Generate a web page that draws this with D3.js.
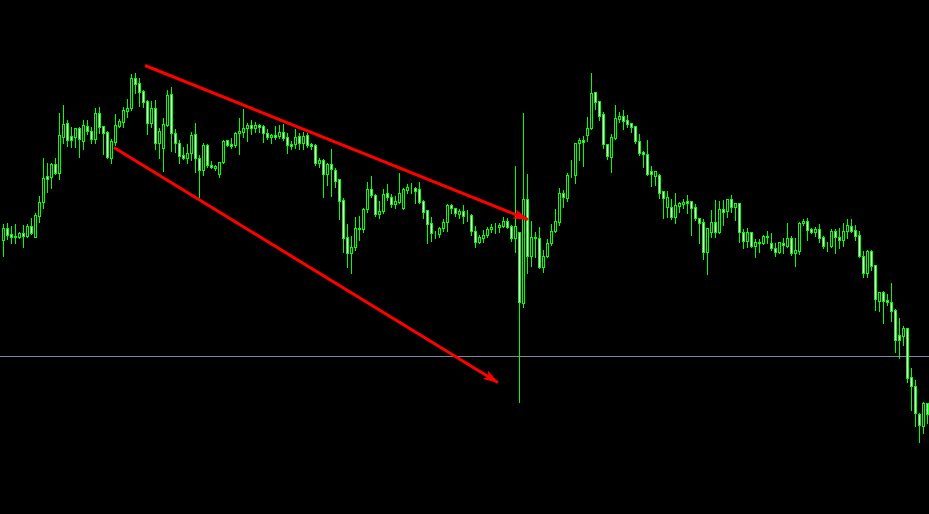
<!DOCTYPE html>
<meta charset="utf-8" />
<title>Candles</title>
<script src="https://d3js.org/d3.v7.min.js"></script>
<style>
  html, body { margin: 0; padding: 0; background: #000; overflow: hidden; }
  svg { display: block; }
</style>
<div id="chart"></div>
<script>
  var width = 929, height = 514;

  // OHLC per bar
  var open = [
    1.0760,1.0772,1.0766,1.0764,1.0763,1.0767,1.0764,1.0774,1.0763,1.0784,
    1.0798,1.0824,1.0823,1.0836,1.0827,1.0863,1.0877,1.0864,1.0863,1.0872,
    1.0859,1.0874,1.0869,1.0861,1.0887,1.0874,1.0868,1.0842,1.0858,1.0874,
    1.0878,1.0889,1.0892,1.0922,1.0917,1.0909,1.0899,1.0877,1.0892,1.0857,
    1.0852,1.0875,1.0906,1.0867,1.0857,1.0845,1.0842,1.0847,1.0866,1.0842,
    1.0830,1.0855,1.0835,1.0832,1.0826,1.0838,1.0860,1.0856,1.0855,1.0867,
    1.0868,1.0872,1.0875,1.0872,1.0875,1.0874,1.0867,1.0863,1.0865,1.0864,
    1.0868,1.0863,1.0856,1.0856,1.0864,1.0857,1.0865,1.0856,1.0855,1.0837,
    1.0840,1.0826,1.0836,1.0830,1.0821,1.0800,1.0763,1.0747,1.0753,1.0772,
    1.0771,1.0791,1.0811,1.0805,1.0786,1.0789,1.0807,1.0803,1.0796,1.0798,
    1.0792,1.0810,1.0812,1.0812,1.0811,1.0799,1.0790,1.0777,1.0767,1.0766,
    1.0772,1.0778,1.0795,1.0792,1.0786,1.0789,1.0785,1.0785,1.0769,1.0758,
    1.0762,1.0765,1.0771,1.0773,1.0773,1.0774,1.0779,1.0774,1.0762,1.0768,
    1.0697,1.0801,1.0744,1.0763,1.0762,1.0733,1.0744,1.0757,1.0769,1.0778,
    1.0807,1.0802,1.0825,1.0825,1.0857,1.0860,1.0865,1.0872,1.0908,1.0899,
    1.0886,1.0856,1.0843,1.0862,1.0881,1.0884,1.0880,1.0877,1.0874,1.0859,
    1.0848,1.0846,1.0829,1.0824,1.0825,1.0809,1.0793,1.0793,1.0783,1.0794,
    1.0796,1.0799,1.0799,1.0793,1.0782,1.0778,1.0748,1.0768,1.0778,1.0768,
    1.0791,1.0789,1.0801,1.0793,1.0797,1.0768,1.0759,1.0768,1.0754,1.0758,
    1.0757,1.0764,1.0757,1.0752,1.0748,1.0757,1.0754,1.0762,1.0747,1.0749,
    1.0777,1.0779,1.0771,1.0768,1.0771,1.0763,1.0755,1.0754,1.0769,1.0763,
    1.0760,1.0769,1.0774,1.0770,1.0765,1.0744,1.0727,1.0749,1.0735,1.0699,
    1.0708,1.0700,1.0698,1.0690,1.0665,1.0664,1.0672,1.0623,1.0614,1.0586,
    1.0574,1.0597
  ];
  var high = [
    1.0777,1.0778,1.0775,1.0777,1.0769,1.0776,1.0777,1.0783,1.0788,1.0805,
    1.0843,1.0838,1.0838,1.0843,1.0888,1.0896,1.0881,1.0874,1.0873,1.0874,
    1.0881,1.0881,1.0874,1.0893,1.0894,1.0875,1.0870,1.0862,1.0887,1.0882,
    1.0894,1.0902,1.0927,1.0928,1.0923,1.0911,1.0901,1.0900,1.0901,1.0873,
    1.0883,1.0911,1.0914,1.0872,1.0861,1.0854,1.0857,1.0869,1.0878,1.0846,
    1.0858,1.0857,1.0840,1.0836,1.0839,1.0861,1.0861,1.0863,1.0869,1.0883,
    1.0892,1.0878,1.0881,1.0879,1.0877,1.0876,1.0872,1.0867,1.0875,1.0876,
    1.0877,1.0868,1.0860,1.0872,1.0868,1.0869,1.0868,1.0858,1.0857,1.0843,
    1.0842,1.0838,1.0852,1.0833,1.0822,1.0803,1.0777,1.0765,1.0784,1.0785,
    1.0793,1.0819,1.0825,1.0807,1.0800,1.0812,1.0817,1.0807,1.0805,1.0828,
    1.0813,1.0817,1.0818,1.0814,1.0819,1.0801,1.0791,1.0784,1.0770,1.0774,
    1.0782,1.0797,1.0797,1.0793,1.0792,1.0796,1.0791,1.0787,1.0775,1.0766,
    1.0771,1.0774,1.0777,1.0778,1.0778,1.0784,1.0783,1.0776,1.0835,1.0768,
    1.0888,1.0827,1.0780,1.0769,1.0774,1.0751,1.0762,1.0777,1.0792,1.0813,
    1.0811,1.0828,1.0841,1.0858,1.0863,1.0865,1.0884,1.0928,1.0909,1.0900,
    1.0889,1.0857,1.0867,1.0896,1.0889,1.0891,1.0886,1.0878,1.0875,1.0867,
    1.0850,1.0861,1.0835,1.0830,1.0827,1.0810,1.0810,1.0802,1.0808,1.0799,
    1.0802,1.0806,1.0800,1.0797,1.0783,1.0782,1.0773,1.0791,1.0801,1.0800,
    1.0801,1.0802,1.0806,1.0798,1.0798,1.0772,1.0773,1.0769,1.0762,1.0762,
    1.0766,1.0770,1.0768,1.0758,1.0759,1.0763,1.0778,1.0765,1.0763,1.0779,
    1.0782,1.0783,1.0773,1.0774,1.0777,1.0765,1.0759,1.0772,1.0772,1.0773,
    1.0778,1.0782,1.0782,1.0776,1.0770,1.0750,1.0751,1.0751,1.0736,1.0709,
    1.0710,1.0707,1.0718,1.0692,1.0683,1.0675,1.0673,1.0633,1.0621,1.0588,
    1.0599,1.0598
  ];
  var low = [
    1.0744,1.0761,1.0757,1.0757,1.0762,1.0753,1.0763,1.0766,1.0763,1.0778,
    1.0792,1.0808,1.0812,1.0826,1.0821,1.0857,1.0854,1.0853,1.0853,1.0843,
    1.0851,1.0866,1.0857,1.0857,1.0867,1.0846,1.0842,1.0837,1.0855,1.0873,
    1.0873,1.0883,1.0890,1.0907,1.0894,1.0893,1.0866,1.0873,1.0851,1.0842,
    1.0829,1.0874,1.0849,1.0848,1.0837,1.0841,1.0837,1.0840,1.0828,1.0803,
    1.0825,1.0833,1.0832,1.0830,1.0823,1.0837,1.0854,1.0852,1.0853,1.0846,
    1.0863,1.0859,1.0866,1.0868,1.0868,1.0858,1.0861,1.0857,1.0861,1.0862,
    1.0860,1.0847,1.0851,1.0852,1.0851,1.0851,1.0853,1.0851,1.0835,1.0833,
    1.0803,1.0815,1.0804,1.0813,1.0781,1.0748,1.0733,1.0727,1.0750,1.0760,
    1.0768,1.0788,1.0803,1.0784,1.0782,1.0787,1.0800,1.0793,1.0792,1.0797,
    1.0791,1.0807,1.0807,1.0797,1.0797,1.0782,1.0757,1.0759,1.0762,1.0763,
    1.0769,1.0769,1.0787,1.0784,1.0782,1.0777,1.0779,1.0765,1.0753,1.0757,
    1.0758,1.0763,1.0768,1.0767,1.0768,1.0773,1.0772,1.0759,1.0748,1.0598,
    1.0693,1.0727,1.0734,1.0743,1.0732,1.0728,1.0743,1.0755,1.0768,1.0775,
    1.0793,1.0799,1.0823,1.0817,1.0840,1.0834,1.0859,1.0871,1.0891,1.0880,
    1.0852,1.0841,1.0828,1.0861,1.0878,1.0871,1.0873,1.0868,1.0857,1.0845,
    1.0833,1.0825,1.0814,1.0815,1.0802,1.0782,1.0783,1.0781,1.0777,1.0788,
    1.0792,1.0787,1.0765,1.0780,1.0757,1.0741,1.0726,1.0763,1.0763,1.0767,
    1.0775,1.0783,1.0788,1.0780,1.0758,1.0752,1.0753,1.0753,1.0743,1.0748,
    1.0756,1.0757,1.0750,1.0744,1.0747,1.0747,1.0753,1.0745,1.0734,1.0746,
    1.0775,1.0760,1.0767,1.0764,1.0758,1.0752,1.0749,1.0753,1.0747,1.0752,
    1.0754,1.0762,1.0768,1.0760,1.0743,1.0723,1.0723,1.0730,1.0690,1.0689,
    1.0677,1.0695,1.0679,1.0648,1.0642,1.0655,1.0618,1.0590,1.0574,1.0558,
    1.0567,1.0577
  ];
  var close = [
    1.0772,1.0765,1.0763,1.0763,1.0767,1.0764,1.0774,1.0767,1.0785,1.0798,
    1.0822,1.0821,1.0836,1.0827,1.0865,1.0876,1.0860,1.0860,1.0872,1.0861,
    1.0875,1.0869,1.0861,1.0887,1.0873,1.0867,1.0843,1.0859,1.0875,1.0879,
    1.0890,1.0892,1.0922,1.0916,1.0908,1.0898,1.0877,1.0892,1.0857,1.0869,
    1.0876,1.0905,1.0867,1.0857,1.0844,1.0842,1.0847,1.0865,1.0842,1.0830,
    1.0855,1.0835,1.0833,1.0834,1.0838,1.0859,1.0855,1.0854,1.0867,1.0869,
    1.0872,1.0875,1.0872,1.0875,1.0873,1.0867,1.0863,1.0865,1.0863,1.0868,
    1.0862,1.0855,1.0854,1.0863,1.0857,1.0864,1.0855,1.0854,1.0837,1.0840,
    1.0826,1.0836,1.0831,1.0819,1.0799,1.0762,1.0747,1.0753,1.0772,1.0771,
    1.0791,1.0811,1.0805,1.0786,1.0789,1.0806,1.0803,1.0796,1.0799,1.0807,
    1.0811,1.0813,1.0812,1.0809,1.0798,1.0788,1.0776,1.0767,1.0767,1.0772,
    1.0778,1.0795,1.0792,1.0787,1.0789,1.0784,1.0785,1.0769,1.0758,1.0763,
    1.0765,1.0771,1.0773,1.0773,1.0775,1.0779,1.0773,1.0762,1.0774,1.0698,
    1.0801,1.0744,1.0763,1.0762,1.0733,1.0744,1.0757,1.0769,1.0779,1.0807,
    1.0803,1.0825,1.0825,1.0857,1.0860,1.0858,1.0872,1.0907,1.0898,1.0884,
    1.0856,1.0844,1.0863,1.0882,1.0884,1.0879,1.0876,1.0873,1.0859,1.0847,
    1.0846,1.0826,1.0826,1.0829,1.0807,1.0802,1.0803,1.0783,1.0795,1.0797,
    1.0798,1.0797,1.0792,1.0782,1.0777,1.0748,1.0772,1.0778,1.0768,1.0791,
    1.0788,1.0801,1.0793,1.0797,1.0768,1.0759,1.0768,1.0754,1.0758,1.0757,
    1.0764,1.0763,1.0752,1.0748,1.0758,1.0755,1.0762,1.0747,1.0750,1.0777,
    1.0779,1.0770,1.0768,1.0771,1.0762,1.0754,1.0755,1.0769,1.0763,1.0760,
    1.0769,1.0775,1.0769,1.0764,1.0744,1.0727,1.0749,1.0734,1.0701,1.0708,
    1.0699,1.0698,1.0689,1.0660,1.0660,1.0672,1.0622,1.0614,1.0587,1.0575,
    1.0597,1.0586
  ];

  // horizontal level and the two hand-drawn arrows (bar index, price)
  var levelPrice = 1.0644;
  var arrows = [
    { from: [35.4, 1.0935], to: [131.1, 1.0781] },
    { from: [27.6, 1.0853], to: [123.6, 1.0618] }
  ];

  var bars = open.map(function (o, i) {
    return { i: i, o: o, h: high[i], l: low[i], c: close[i] };
  });

  var svg = d3
    .select("#chart")
    .append("svg")
    .attr("width", width)
    .attr("height", height)
    .style("background", "#000");

  var x = d3
    .scaleLinear()
    .domain([0, bars.length - 1])
    .range([3.5, 3.5 + 4 * (bars.length - 1)]);

  var y = d3.scaleLinear().domain([1.0486, 1.1]).range([514.5, 0.5]);

  // level line
  svg
    .append("line")
    .attr("x1", 0)
    .attr("x2", width)
    .attr("y1", y(levelPrice))
    .attr("y2", y(levelPrice))
    .attr("stroke", "#7a8a9e")
    .attr("stroke-width", 1)
    .attr("shape-rendering", "crispEdges");

  // candles
  var g = svg.append("g").attr("shape-rendering", "crispEdges");

  g.selectAll("line.wick")
    .data(bars)
    .join("line")
    .attr("class", "wick")
    .attr("x1", (d) => x(d.i))
    .attr("x2", (d) => x(d.i))
    .attr("y1", (d) => y(d.h))
    .attr("y2", (d) => y(d.l))
    .attr("stroke", "#00ff00")
    .attr("stroke-width", 1);

  g.selectAll("rect.body")
    .data(bars)
    .join("rect")
    .attr("class", "body")
    .attr("x", (d) => x(d.i) - 1)
    .attr("width", 2)
    .attr("y", (d) => y(Math.max(d.o, d.c)))
    .attr("height", (d) => Math.abs(y(d.o) - y(d.c)))
    .attr("fill", (d) => (d.c < d.o ? "#ffffff" : "#000000"))
    .attr("stroke", "#00ff00")
    .attr("stroke-width", 1);

  // arrows
  svg
    .append("defs")
    .append("marker")
    .attr("id", "head")
    .attr("markerUnits", "userSpaceOnUse")
    .attr("viewBox", "0 0 16 10")
    .attr("refX", 15)
    .attr("refY", 5)
    .attr("markerWidth", 16)
    .attr("markerHeight", 10)
    .attr("orient", "auto")
    .append("path")
    .attr("d", "M0,0 L16,5 L0,10 L4,5 Z")
    .attr("fill", "#ff0000");

  svg
    .selectAll("line.arrow")
    .data(arrows)
    .join("line")
    .attr("class", "arrow")
    .attr("x1", (d) => x(d.from[0]))
    .attr("y1", (d) => y(d.from[1]))
    .attr("x2", (d) => x(d.to[0]))
    .attr("y2", (d) => y(d.to[1]))
    .attr("stroke", "#ff0000")
    .attr("stroke-width", 3)
    .attr("marker-end", "url(#head)");
</script>
